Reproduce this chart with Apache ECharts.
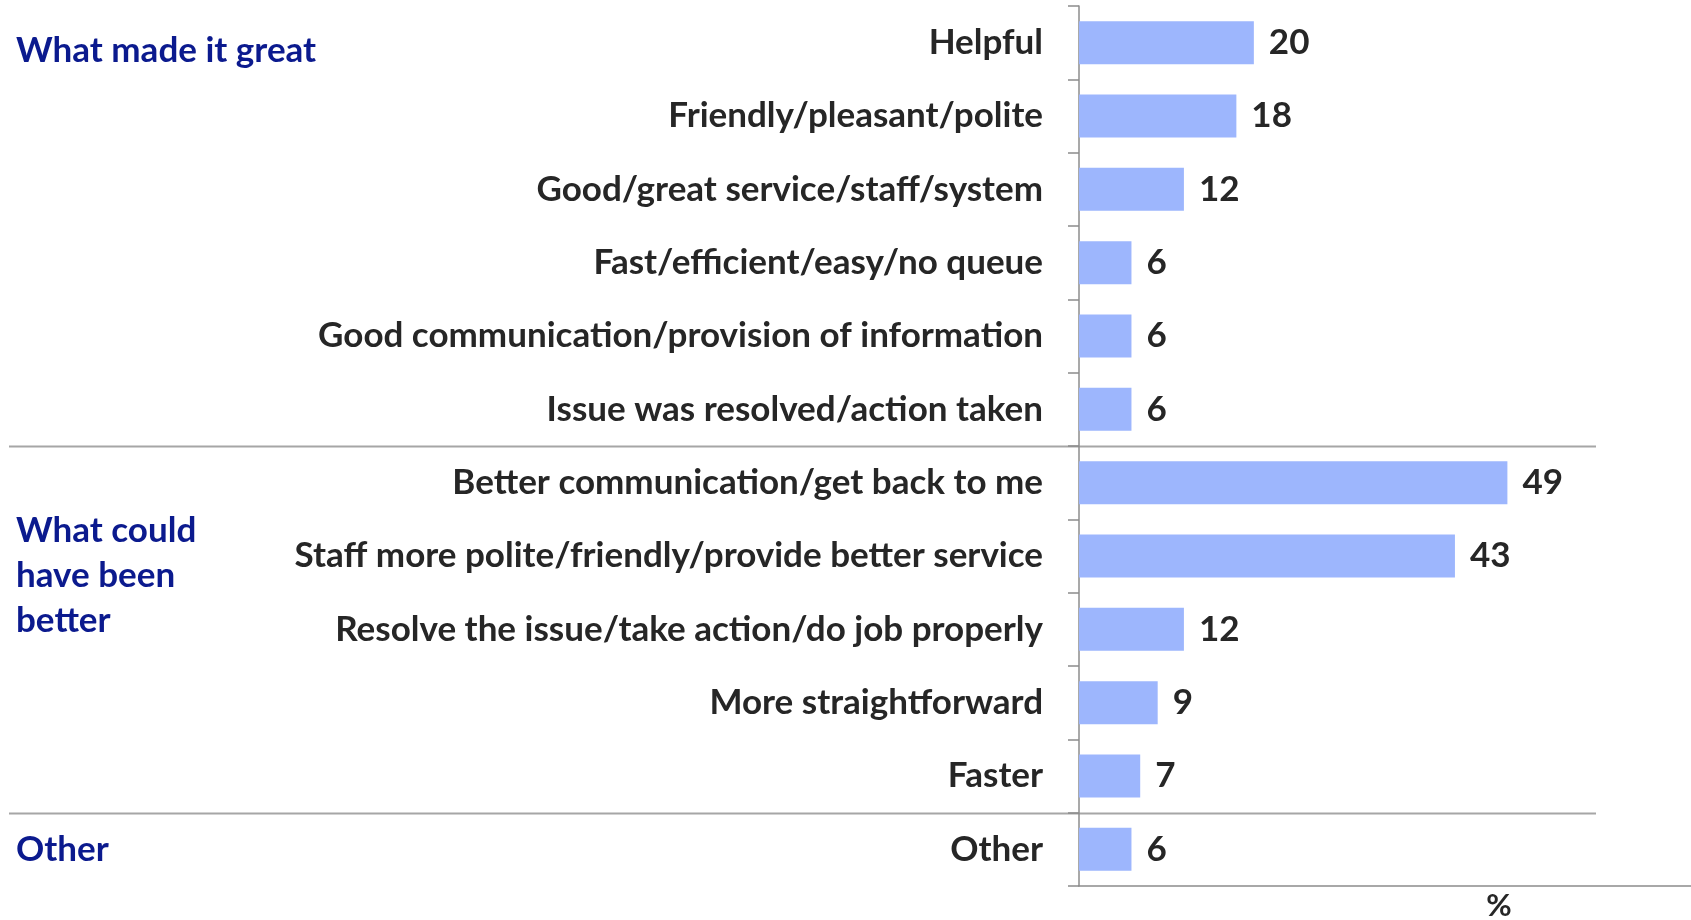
<!DOCTYPE html>
<html>
<head>
<meta charset="utf-8">
<script src="https://cdn.jsdelivr.net/npm/echarts@6/dist/echarts.min.js"></script>
<style>
  html, body { margin: 0; padding: 0; background: #ffffff; }
  #chart { width: 1691px; height: 920px; }
</style>
</head>
<body>
<div id="chart"></div>
<script>
// Survey responses: reasons the experience was great / could have been better (%)
const categories = [
  'Helpful',
  'Friendly/pleasant/polite',
  'Good/great service/staff/system',
  'Fast/efficient/easy/no queue',
  'Good communication/provision of information',
  'Issue was resolved/action taken',
  'Better communication/get back to me',
  'Staff more polite/friendly/provide better service',
  'Resolve the issue/take action/do job properly',
  'More straightforward',
  'Faster',
  'Other'
];
const values = [20, 18, 12, 6, 6, 6, 49, 43, 12, 9, 7, 6];

// Section headings and the index of the last category in each section
const groupTitles = ['What made it great', 'What could\nhave been\nbetter', 'Other'];
const groupEnds = [5, 10, 11];

const FONT = 'Lato';
const SIZE = 35;
const TEXT = '#262626';
const BLUE = '#0b1a8e';
const BAR = '#9db6fd';
const AXIS = '#8c8c8c';

const chart = echarts.init(document.getElementById('chart'));

chart.setOption({
  animation: false,
  grid: { left: 1079, right: 0, top: 6, bottom: 34, containLabel: false },
  xAxis: {
    type: 'value',
    min: 0,
    max: 70,
    axisLine: { show: true, lineStyle: { color: AXIS, width: 1.5 } },
    axisTick: { show: false },
    axisLabel: { show: false },
    splitLine: { show: false }
  },
  yAxis: {
    type: 'category',
    inverse: true,
    data: categories,
    axisLine: { show: true, lineStyle: { color: AXIS, width: 1.5 } },
    axisTick: { show: true, length: 11, lineStyle: { color: AXIS, width: 1.5 } },
    axisLabel: {
      margin: 36,
      color: TEXT,
      fontFamily: FONT,
      fontWeight: 'bold',
      fontSize: SIZE
    }
  },
  series: [{
    type: 'bar',
    data: values,
    barWidth: 43,
    itemStyle: { color: BAR },
    label: {
      show: true,
      position: 'right',
      distance: 15,
      color: TEXT,
      fontFamily: FONT,
      fontWeight: 'bold',
      fontSize: SIZE
    }
  }]
});

// Section separators and headings, positioned from the category axis
function drawSections() {
  const band = chart.convertToPixel({ yAxisIndex: 0 }, 1) - chart.convertToPixel({ yAxisIndex: 0 }, 0);
  const elements = [];
  groupEnds.slice(0, -1).forEach(function (idx) {
    const y = Math.round(chart.convertToPixel({ yAxisIndex: 0 }, idx) + band / 2) + 0.5;
    elements.push({
      type: 'line',
      shape: { x1: 9, y1: y, x2: 1596, y2: y },
      style: { stroke: '#a6a6a6', lineWidth: 2 },
      silent: true
    });
  });
  const headingY = [51, 576, 850];
  groupTitles.forEach(function (t, i) {
    elements.push({
      type: 'text',
      x: 16,
      y: headingY[i],
      style: {
        text: t,
        fill: BLUE,
        font: 'bold ' + SIZE + 'px ' + FONT,
        lineHeight: 45,
        verticalAlign: 'middle'
      }
    });
  });
  elements.push({
    type: 'text',
    x: 1499,
    y: 906,
    style: {
      text: '%',
      fill: TEXT,
      font: 'bold 31px ' + FONT,
      align: 'center',
      verticalAlign: 'middle'
    }
  });
  chart.setOption({ graphic: elements });
}
drawSections();
</script>
</body>
</html>
